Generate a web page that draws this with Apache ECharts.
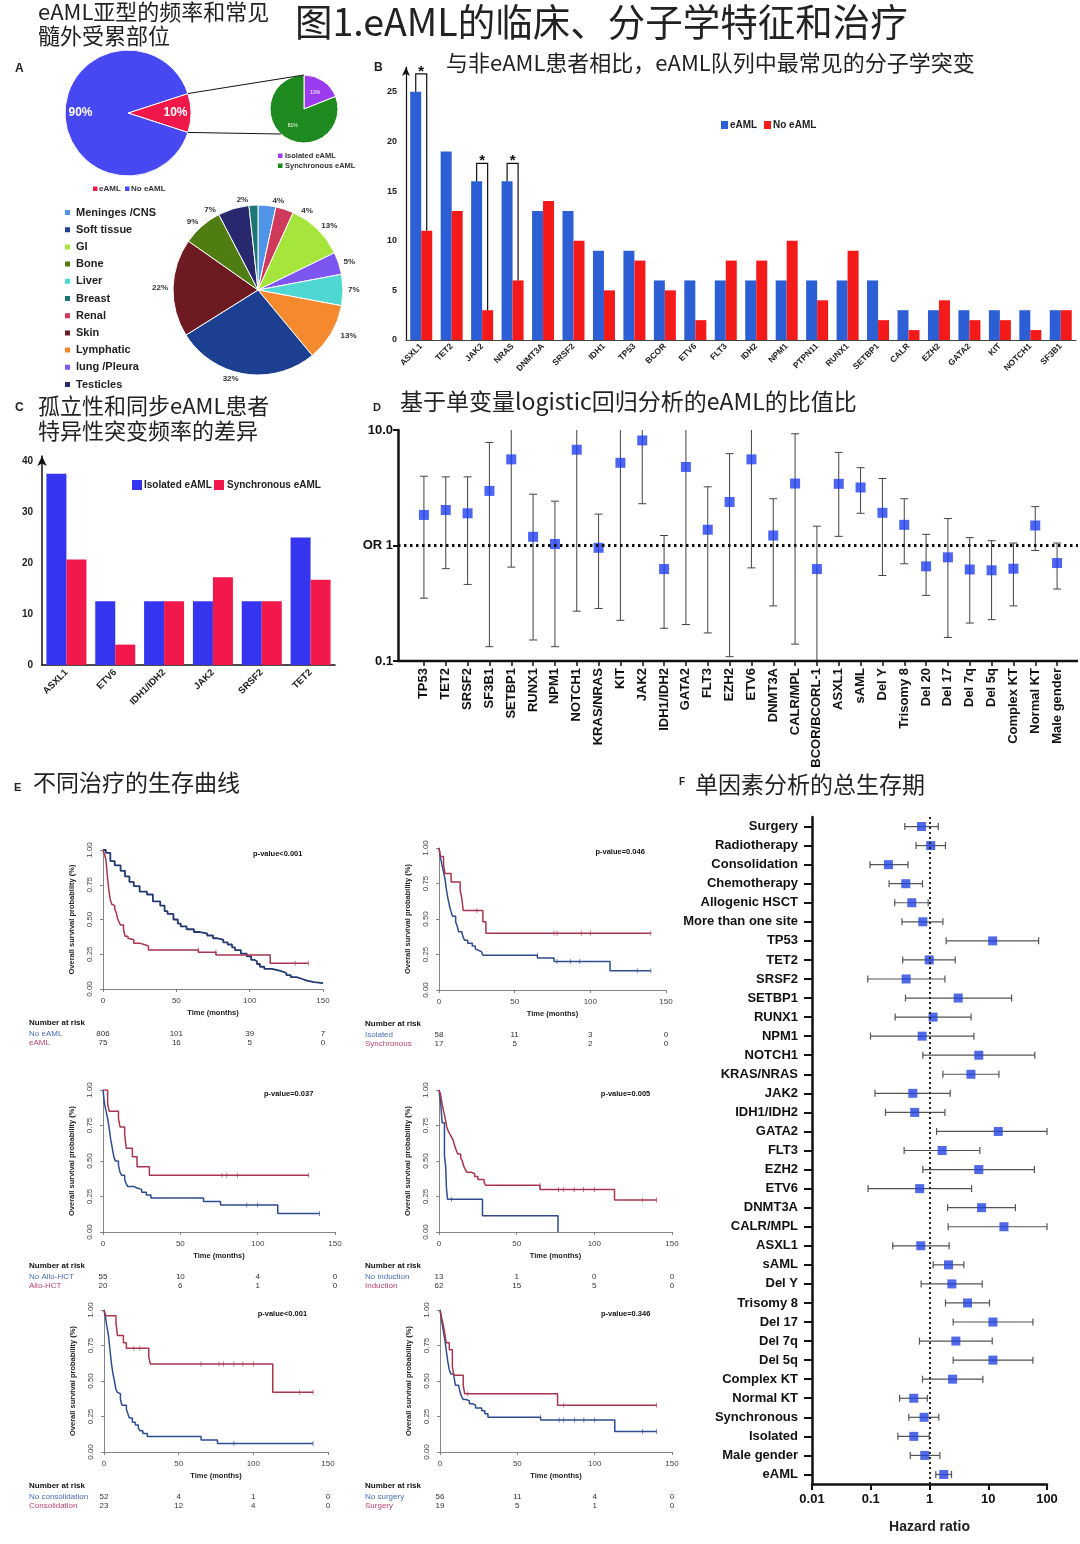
<!DOCTYPE html>
<html><head><meta charset="utf-8">
<script src="https://cdn.jsdelivr.net/npm/echarts@6/dist/echarts.min.js"></script>
<style>html,body{margin:0;padding:0;background:#fff}#c{width:1080px;height:1544px}</style>
</head><body><div id="c"></div>
<script>
// ---------------- DATA ----------------
const pieMainNames = ['eAML', 'No eAML'];
const pieMainValues = [10, 90];
const pieSubNames = ['Isolated eAML', 'Synchronous eAML'];
const pieSubValues = [19, 81];
const siteNames = ['Meninges /CNS','Renal','GI','lung /Pleura','Liver','Lymphatic','Soft tissue','Skin','Bone','Testicles','Breast'];
const siteValues = [4, 4, 13, 5, 7, 13, 32, 22, 9, 7, 2];
const siteLegendOrder = ['Meninges /CNS','Soft tissue','GI','Bone','Liver','Breast','Renal','Skin','Lymphatic','lung /Pleura','Testicles'];

const mutGenes = ['ASXL1','TET2','JAK2','NRAS','DNMT3A','SRSF2','IDH1','TP53','BCOR','ETV6','FLT3','IDH2','NPM1','PTPN11','RUNX1','SETBP1','CALR','EZH2','GATA2','KIT','NOTCH1','SF3B1'];
const mutEAML   = [25,19,16,16,13,13,9,9,6,6,6,6,6,6,6,6,3,3,3,3,3,3];
const mutNoEAML = [11,13,3,6,14,10,5,8,5,2,8,8,10,4,9,2,1,4,2,2,1,3];
const sigGenes = ['ASXL1','JAK2','NRAS'];
const sigLevels = [26.8, 17.8, 17.8];
const mutTicks = [0, 5, 10, 15, 20, 25];

const subGenes = ['ASXL1','ETV6','IDH1/IDH2','JAK2','SRSF2','TET2'];
const subIsolated = [37.5, 12.5, 12.5, 12.5, 12.5, 25];
const subSynchronous = [20.7, 4, 12.5, 17.2, 12.5, 16.7];
const subTicks = [0, 10, 20, 30, 40];

const orVars = ['TP53','TET2','SRSF2','SF3B1','SETBP1','RUNX1','NPM1','NOTCH1','KRAS/NRAS','KIT','JAK2','IDH1/IDH2','GATA2','FLT3','EZH2','ETV6','DNMT3A','CALR/MPL','BCOR/BCORL-1','ASXL1','sAML','Del Y','Trisomy 8','Del 20','Del 17','Del 7q','Del 5q','Complex KT','Normal KT','Male gender'];
const orValue = [1.84,2.03,1.90,2.97,5.57,1.19,1.03,6.75,0.955,5.2,8.12,0.625,4.79,1.37,2.38,5.57,1.22,3.44,0.625,3.42,3.18,1.92,1.51,0.66,0.79,0.62,0.61,0.63,1.49,0.705];
const orLower = [0.35,0.63,0.46,0.133,0.65,0.152,0.133,0.27,0.285,0.225,2.3,0.192,0.207,0.175,0.109,0.64,0.30,0.14,0.05,1.2,1.9,0.55,0.695,0.37,0.16,0.213,0.228,0.30,0.906,0.42];
const orUpper = [3.98,3.93,3.93,7.8,15,2.78,2.42,15,1.87,15,15,1.22,15,3.22,6.24,15,2.54,9.27,1.47,6.4,4.72,3.8,2.54,1.25,1.71,1.17,1.1,1.05,2.17,1.05];

const hrVars = ['Surgery','Radiotherapy','Consolidation','Chemotherapy','Allogenic HSCT','More than one site','TP53','TET2','SRSF2','SETBP1','RUNX1','NPM1','NOTCH1','KRAS/NRAS','JAK2','IDH1/IDH2','GATA2','FLT3','EZH2','ETV6','DNMT3A','CALR/MPL','ASXL1','sAML','Del Y','Trisomy 8','Del 17','Del 7q','Del 5q','Complex KT','Normal KT','Synchronous','Isolated','Male gender','eAML'];
const hrValue = [0.73,1.05,0.20,0.395,0.50,0.77,11.9,0.99,0.40,3.08,1.15,0.75,6.9,5.07,0.52,0.56,14.8,1.64,6.9,0.68,7.7,18.5,0.71,2.11,2.4,4.44,12.0,2.81,12.0,2.47,0.54,0.81,0.54,0.83,1.75];
const hrLower = [0.38,0.59,0.097,0.205,0.256,0.34,1.92,0.35,0.089,0.39,0.26,0.099,0.77,1.69,0.118,0.178,1.32,0.37,0.77,0.09,2.03,2.08,0.237,1.155,0.72,1.87,2.53,0.675,2.53,0.76,0.31,0.445,0.29,0.47,1.28];
const hrUpper = [1.41,1.87,0.43,0.76,0.95,1.69,72,2.74,1.83,25,5.1,5.7,62,15.2,2.25,1.83,100,7.2,61,5.2,29,100,2.16,3.84,7.9,10.5,57.6,11.7,57.6,8.1,0.92,1.44,0.99,1.5,2.37];

// Kaplan-Meier curves [time (months), survival]
const km1Blue = [[0,1],[2,0.98],[5,0.92],[8,0.89],[12,0.85],[15,0.81],[18,0.77],[21,0.74],[25,0.70],[30,0.68],[34,0.63],[39,0.60],[42,0.56],[44,0.54],[48,0.50],[51,0.47],[53,0.45],[57,0.43],[62,0.41],[66,0.40],[71,0.385],[75,0.365],[78,0.355],[82,0.335],[85,0.32],[88,0.30],[90,0.28],[94,0.255],[98,0.235],[101,0.21],[103,0.20],[105,0.18],[107,0.16],[110,0.145],[115,0.135],[119,0.127],[122,0.115],[125,0.10],[128,0.085],[132,0.072],[136,0.06],[139,0.05],[144,0.042],[150,0.04]];
const km1Red = [[0,1],[1,0.97],[2,0.93],[3,0.81],[4,0.71],[5,0.64],[6,0.61],[7,0.60],[8,0.575],[9,0.55],[10,0.505],[11,0.48],[12,0.46],[14,0.43],[15,0.38],[17,0.365],[18,0.355],[21,0.33],[25,0.32],[28,0.31],[31,0.28],[65,0.265],[77,0.245],[114,0.185],[140,0.185]];
const km1BlueCens = [];
const km1RedCens = [[65,0.28],[77,0.265],[131,0.185],[140,0.185]];

const km2Blue = [[0,1],[1,0.93],[2,0.88],[3,0.83],[4,0.78],[5,0.70],[6,0.64],[7,0.59],[8,0.55],[9,0.52],[11,0.48],[12,0.45],[13,0.41],[15,0.40],[16,0.37],[17,0.35],[19,0.33],[22,0.31],[24,0.29],[25,0.28],[26,0.27],[28,0.26],[29,0.245],[65,0.225],[76,0.20],[113,0.135],[140,0.135]];
const km2Red = [[0,1],[1,0.94],[3,0.88],[4,0.82],[8,0.76],[14,0.70],[15,0.65],[16,0.56],[29,0.48],[31,0.40],[140,0.40]];
const km2BlueCens = [[65,0.245],[78,0.20],[87,0.20],[93,0.20],[131,0.135],[140,0.135]];
const km2RedCens = [[25,0.56],[76,0.40],[78,0.40],[94,0.40],[100,0.40],[140,0.40]];

const km3Blue = [[0,1],[1,0.90],[2,0.85],[3,0.80],[4,0.73],[5,0.65],[6,0.59],[7,0.53],[8,0.50],[10,0.47],[11,0.42],[12,0.40],[14,0.37],[15,0.34],[16,0.32],[20,0.31],[22,0.30],[25,0.28],[28,0.26],[31,0.24],[65,0.215],[76,0.19],[113,0.13],[140,0.13]];
const km3Red = [[0,1],[3,0.90],[4,0.85],[10,0.80],[11,0.74],[14,0.69],[15,0.59],[19,0.53],[22,0.46],[30,0.40],[133,0.40]];
const km3BlueCens = [[93,0.19],[100,0.19],[140,0.13]];
const km3RedCens = [[77,0.40],[80,0.40],[87,0.40],[133,0.40]];

const km4Blue = [[0,1],[1,0.92],[2,0.77],[3.5,0.54],[4.3,0.46],[4.8,0.31],[5.5,0.23],[28,0.115],[76.6,0]];
const km4Red = [[0,1],[1,0.97],[2,0.90],[3,0.85],[4,0.80],[5,0.74],[6,0.71],[7,0.69],[8,0.67],[9,0.65],[10,0.61],[11,0.58],[12,0.55],[14,0.52],[15,0.50],[16,0.46],[17,0.44],[18,0.42],[21,0.41],[23,0.39],[25,0.37],[29,0.35],[30,0.33],[65,0.30],[113,0.225],[140,0.225]];
const km4BlueCens = [[8,0.23]];
const km4RedCens = [[65,0.33],[77,0.30],[80,0.30],[87,0.30],[93,0.30],[100,0.30],[131,0.225],[140,0.225]];

const km5Blue = [[0,1],[1,0.95],[2,0.88],[3,0.82],[4,0.72],[5,0.62],[6,0.55],[7,0.50],[8,0.44],[9,0.42],[10,0.41],[11,0.37],[12,0.33],[15,0.30],[16,0.27],[17,0.24],[19,0.21],[21,0.19],[23,0.17],[24,0.15],[26,0.13],[29,0.11],[65,0.085],[76,0.06],[140,0.06]];
const km5Red = [[0,1],[1,0.96],[8,0.91],[9,0.82],[13,0.77],[15,0.73],[30,0.67],[31,0.62],[113,0.42],[140,0.42]];
const km5BlueCens = [[87,0.06],[140,0.06]];
const km5RedCens = [[20,0.73],[24,0.73],[65,0.62],[77,0.62],[80,0.62],[87,0.62],[93,0.62],[100,0.62],[131,0.42],[140,0.42]];

const km6Blue = [[0,1],[1,0.93],[2,0.86],[3,0.80],[4,0.72],[5,0.64],[6,0.58],[7,0.55],[9,0.53],[10,0.47],[12,0.46],[13,0.42],[14,0.39],[15,0.37],[17,0.36],[19,0.34],[21,0.33],[23,0.31],[27,0.29],[29,0.27],[31,0.245],[65,0.225],[113,0.145],[140,0.145]];
const km6Red = [[0,1],[1,0.95],[2,0.90],[3,0.84],[4,0.77],[6,0.72],[8,0.60],[9,0.54],[15,0.47],[16,0.41],[76,0.33],[140,0.33]];
const km6BlueCens = [[65,0.245],[77,0.225],[80,0.225],[87,0.225],[93,0.225],[100,0.225],[131,0.145],[140,0.145]];
const km6RedCens = [[18,0.41],[80,0.33],[140,0.33]];

const kmPValues = ['p-value<0.001','p-value=0.046','p-value=0.037','p-value=0.005','p-value<0.001','p-value=0.346'];
const kmGroupNames = [['No eAML','eAML'],['Isolated','Synchronous'],['No Allo-HCT','Allo-HCT'],['No induction','Induction'],['No consolidation','Consolidation'],['No surgery','Surgery']];
const kmRisk = [
  [[806,101,39,7],[75,16,5,0]],
  [[58,11,3,0],[17,5,2,0]],
  [[55,10,4,0],[20,6,1,0]],
  [[13,1,0,0],[62,15,5,0]],
  [[52,4,1,0],[23,12,4,0]],
  [[56,11,4,0],[19,5,1,0]]
];
const kmTimeTicks = [0, 50, 100, 150];

// ---------------- STYLE ----------------
const LAT = '"Liberation Sans", Arial, sans-serif';
const CJK = '"Noto Sans CJK SC", sans-serif';
const C_BLUE_A = '#4848f2', C_RED_A = '#f0184a';
const C_PURPLE = '#9b3cf0', C_GREEN = '#1f8a1f';
const siteColors = {'Meninges /CNS':'#4f94e8','Renal':'#cf3a5a','GI':'#a6e63c','lung /Pleura':'#7d55f0','Liver':'#4fd8d3','Lymphatic':'#f5892d','Soft tissue':'#1d3f91','Skin':'#6e1a22','Bone':'#4f7d12','Testicles':'#27286e','Breast':'#1d7676'};
const C_B_BLUE = '#2c5fd6', C_B_RED = '#f51a1a';
const C_C_BLUE = '#3535f0', C_C_RED = '#f2184c';
const C_MARK = '#1f3ff0';
const KM_BLUE = '#2e4d8f', KM_RED = '#a8354f';

const kmGrids = [
  {left:103, top:850, width:220, height:139},
  {left:439, top:848, width:227, height:142},
  {left:103, top:1090, width:232, height:142},
  {left:439, top:1090, width:233, height:142},
  {left:104, top:1310, width:224, height:142},
  {left:440, top:1310, width:232, height:142}
];
const kmSets = [
  [km1Blue, km1Red, km1BlueCens, km1RedCens],
  [km2Blue, km2Red, km2BlueCens, km2RedCens],
  [km3Blue, km3Red, km3BlueCens, km3RedCens],
  [km4Blue, km4Red, km4BlueCens, km4RedCens],
  [km5Blue, km5Red, km5BlueCens, km5RedCens],
  [km6Blue, km6Red, km6BlueCens, km6RedCens]
];

const chart = echarts.init(document.getElementById('c'), null, {renderer:'canvas', width:1080, height:1544});

const grids = [
  {left:406, top:67, width:670, height:273},   // 0 B
  {left:42, top:456, width:293, height:209},   // 1 C
  {left:413, top:430, width:655, height:231},  // 2 D
];
kmGrids.forEach(g => grids.push(g));          // 3..8 KM
grids.push({left:812, top:817, width:235, height:667}); // 9 F

const xAxes = [], yAxes = [];
// B
xAxes.push({type:'category', gridIndex:0, data:mutGenes,
  axisLine:{lineStyle:{color:'#444', width:1}}, axisTick:{show:false},
  axisLabel:{interval:0, rotate:45, fontSize:8.5, fontWeight:'bold', color:'#222', margin:5, fontFamily:LAT}});
yAxes.push({type:'value', gridIndex:0, min:0, max:27.5, interval:5,
  axisLine:{show:true, symbol:['none','arrow'], symbolSize:[6,9], lineStyle:{color:'#111', width:1.2}},
  axisTick:{show:false}, splitLine:{show:false},
  axisLabel:{fontSize:9, fontWeight:'bold', color:'#222', margin:9, fontFamily:LAT,
    formatter: v => mutTicks.includes(v) ? String(v) : ''}});
// C
xAxes.push({type:'category', gridIndex:1, data:subGenes,
  axisLine:{lineStyle:{color:'#111', width:1.5}}, axisTick:{show:false},
  axisLabel:{interval:0, rotate:45, fontSize:9.5, fontWeight:'bold', color:'#222', margin:6, fontFamily:LAT}});
yAxes.push({type:'value', gridIndex:1, min:0, max:41, interval:10,
  axisLine:{show:true, symbol:['none','arrow'], symbolSize:[7,10], lineStyle:{color:'#111', width:1.5}},
  axisTick:{show:false}, splitLine:{show:false},
  axisLabel:{fontSize:10, fontWeight:'bold', color:'#222', margin:9, fontFamily:LAT,
    formatter: v => subTicks.includes(v) ? String(v) : ''}});
// D
xAxes.push({type:'category', gridIndex:2, data:orVars,
  axisLine:{show:false}, axisTick:{show:true, alignWithLabel:true, length:5, lineStyle:{color:'#111', width:1.5}},
  axisLabel:{interval:0, rotate:90, fontSize:13, fontWeight:'bold', color:'#111', margin:7, fontFamily:LAT}});
yAxes.push({type:'log', logBase:10, gridIndex:2, min:0.1, max:10, offset:15,
  axisLine:{show:true, lineStyle:{color:'#111', width:2.5}},
  axisTick:{show:true, length:5, lineStyle:{color:'#111', width:2}}, splitLine:{show:false},
  axisLabel:{fontSize:13, fontWeight:'bold', color:'#111', margin:5, fontFamily:LAT,
    formatter: v => Math.abs(v-1)<1e-6 ? 'OR 1' : (Math.abs(v-10)<1e-6 ? '10.0' : '0.1')}});
// KM
kmGrids.forEach((g, k) => {
  xAxes.push({type:'value', gridIndex:3+k, min:0, max:150, interval:50, offset:5,
    axisLine:{show:true, lineStyle:{color:'#666', width:0.8}},
    axisTick:{show:true, length:3, lineStyle:{color:'#666', width:0.8}}, splitLine:{show:false},
    axisLabel:{fontSize:8, color:'#444', margin:3, fontFamily:LAT},
    name:'Time (months)', nameLocation:'middle', nameGap:15,
    nameTextStyle:{fontSize:7.5, fontWeight:'bold', color:'#222', fontFamily:LAT}});
  yAxes.push({type:'value', gridIndex:3+k, min:0, max:1, interval:0.25, offset:6,
    axisLine:{show:true, lineStyle:{color:'#666', width:0.8}},
    axisTick:{show:true, length:3, lineStyle:{color:'#666', width:0.8}}, splitLine:{show:false},
    axisLabel:{fontSize:8, color:'#444', margin:3, rotate:90, fontFamily:LAT, formatter: v => v.toFixed(2)},
    name:'Overall survival probability (%)', nameLocation:'middle', nameGap:21, nameRotate:90,
    nameTextStyle:{fontSize:7.5, fontWeight:'bold', color:'#222', fontFamily:LAT}});
});
// F
xAxes.push({type:'log', logBase:10, gridIndex:9, min:0.01, max:100,
  axisLine:{show:true, lineStyle:{color:'#111', width:2.5}},
  axisTick:{show:true, length:6, lineStyle:{color:'#111', width:2}}, splitLine:{show:false},
  axisLabel:{fontSize:13, fontWeight:'bold', color:'#111', margin:9, fontFamily:LAT,
    formatter: v => String(+v.toPrecision(3))},
  name:'Hazard ratio', nameLocation:'middle', nameGap:36,
  nameTextStyle:{fontSize:14, fontWeight:'bold', color:'#222', fontFamily:LAT}});
yAxes.push({type:'category', gridIndex:9, data:hrVars, inverse:true,
  axisLine:{show:true, lineStyle:{color:'#111', width:2.5}},
  axisTick:{show:true, alignWithLabel:true, length:8, lineStyle:{color:'#111', width:2}},
  axisLabel:{interval:0, fontSize:13, fontWeight:'bold', color:'#111', margin:14, fontFamily:LAT}});

const series = [];
// A: main pie
series.push({type:'pie', center:[128,113], radius:[0,63], startAngle:18, clockwise:true, silent:true,
  data: pieMainNames.map((n,i)=>({name:n, value:pieMainValues[i], itemStyle:{color: i===0?C_RED_A:C_BLUE_A}})),
  itemStyle:{borderColor:'#fff', borderWidth:1}, label:{show:false}, labelLine:{show:false}});
series.push({type:'pie', center:[128,113], radius:[26,63], startAngle:18, clockwise:true, silent:true,
  data: pieMainNames.map((n,i)=>({name:n+' ', value:pieMainValues[i]})),
  itemStyle:{color:'rgba(0,0,0,0)'},
  label:{show:true, position:'inside', formatter:'{d}%', color:'#fff', fontWeight:'bold', fontSize:12, fontFamily:LAT},
  labelLine:{show:false}});
// A: sub pie
series.push({type:'pie', center:[304,109], radius:[0,34], startAngle:90, clockwise:true, silent:true,
  data: pieSubNames.map((n,i)=>({name:n+'  ', value:pieSubValues[i], itemStyle:{color: i===0?C_PURPLE:C_GREEN}})),
  itemStyle:{borderColor:'#fff', borderWidth:1},
  label:{show:true, position:'inside', formatter:'{d}%', color:'#fff', fontSize:5, fontFamily:LAT},
  labelLine:{show:false}});
// A: site pie
series.push({type:'pie', center:[258,290], radius:[0,85], startAngle:90, clockwise:true, silent:true,
  data: siteNames.map((n,i)=>({name:n, value:siteValues[i], itemStyle:{color:siteColors[n]}})),
  itemStyle:{borderColor:'#fff', borderWidth:1},
  label:{show:true, position:'outside', formatter: p => p.value + '%', color:'#333', fontSize:8, fontWeight:'bold', fontFamily:LAT},
  labelLine:{show:false, length:5, length2:0}});
// B
series.push({type:'bar', name:'eAML', xAxisIndex:0, yAxisIndex:0, data:mutEAML, barWidth:11, barGap:'0%', itemStyle:{color:C_B_BLUE}, silent:true});
series.push({type:'bar', name:'No eAML', xAxisIndex:0, yAxisIndex:0, data:mutNoEAML, barWidth:11, barGap:'0%', itemStyle:{color:C_B_RED}, silent:true});
series.push({type:'custom', xAxisIndex:0, yAxisIndex:0, silent:true, z:5,
  data: sigGenes.map((g,i)=>{const j = mutGenes.indexOf(g); return [j, sigLevels[i], mutEAML[j], mutNoEAML[j]];}),
  encode:{x:0, y:1},
  renderItem:(params, api)=>{
    const j = api.value(0), lev = api.value(1);
    const top = api.coord([j, lev]);
    const pb = api.coord([j, api.value(2)]), pr = api.coord([j, api.value(3)]);
    const xb = top[0]-5.5, xr = top[0]+5.5;
    return {type:'group', children:[
      {type:'polyline', shape:{points:[[xb,pb[1]],[xb,top[1]],[xr,top[1]],[xr,pr[1]]]}, style:{stroke:'#111', lineWidth:1.2, fill:null}},
      {type:'text', x:top[0], y:top[1]+5, style:{text:'*', font:'bold 15px '+LAT, fill:'#111', align:'center', verticalAlign:'bottom', textAlign:'center', textVerticalAlign:'bottom'}}
    ]};
  }});
// C
series.push({type:'bar', name:'Isolated', xAxisIndex:1, yAxisIndex:1, data:subIsolated, barWidth:20, barGap:'0%', itemStyle:{color:C_C_BLUE}, silent:true});
series.push({type:'bar', name:'Synchronous', xAxisIndex:1, yAxisIndex:1, data:subSynchronous, barWidth:20, barGap:'0%', itemStyle:{color:C_C_RED}, silent:true});
// D
series.push({type:'custom', xAxisIndex:2, yAxisIndex:2, silent:true,
  data: orVars.map((v,i)=>[i, orLower[i], orUpper[i]]),
  encode:{x:0, y:[1,2]},
  renderItem:(params, api)=>{
    const i = api.value(0), lo = api.value(1), hi = api.value(2);
    const loC = Math.max(lo, 0.1), hiC = Math.min(hi, 10);
    const a = api.coord([i, loC]), b = api.coord([i, hiC]);
    const st = {stroke:'#444', lineWidth:1};
    const ch = [{type:'line', shape:{x1:a[0],y1:a[1],x2:b[0],y2:b[1]}, style:st}];
    if (lo >= 0.1) ch.push({type:'line', shape:{x1:a[0]-4,y1:a[1],x2:a[0]+4,y2:a[1]}, style:st});
    if (hi <= 10) ch.push({type:'line', shape:{x1:b[0]-4,y1:b[1],x2:b[0]+4,y2:b[1]}, style:st});
    return {type:'group', children:ch};
  }});
series.push({type:'scatter', xAxisIndex:2, yAxisIndex:2, silent:true, z:4,
  data: orValue.map((v,i)=>[orVars[i], v]), symbol:'rect', symbolSize:10, itemStyle:{color:C_MARK}});
// KM
kmSets.forEach((s, k) => {
  const ax = 3+k;
  series.push({type:'line', xAxisIndex:ax, yAxisIndex:ax, step:'end', data:s[0], showSymbol:false, silent:true,
    lineStyle:{color: k===0 ? '#22386e' : KM_BLUE, width: k===0 ? 1.8 : 1.5}});
  series.push({type:'line', xAxisIndex:ax, yAxisIndex:ax, step:'end', data:s[1], showSymbol:false, silent:true,
    lineStyle:{color:KM_RED, width:1.5}});
  series.push({type:'scatter', xAxisIndex:ax, yAxisIndex:ax, data:s[2], symbol:'rect', symbolSize:[0.8,5], silent:true, itemStyle:{color:KM_BLUE}});
  series.push({type:'scatter', xAxisIndex:ax, yAxisIndex:ax, data:s[3], symbol:'rect', symbolSize:[0.8,5], silent:true, itemStyle:{color:KM_RED}});
});
// F
series.push({type:'custom', xAxisIndex:9, yAxisIndex:9, silent:true,
  data: hrVars.map((v,i)=>[hrLower[i], hrUpper[i], i]),
  encode:{x:[0,1], y:2},
  renderItem:(params, api)=>{
    const a = api.coord([api.value(0), api.value(2)]), b = api.coord([api.value(1), api.value(2)]);
    const st = {stroke:'#555', lineWidth:1.2};
    return {type:'group', children:[
      {type:'line', shape:{x1:a[0],y1:a[1],x2:b[0],y2:b[1]}, style:st},
      {type:'line', shape:{x1:a[0],y1:a[1]-3.5,x2:a[0],y2:a[1]+3.5}, style:st},
      {type:'line', shape:{x1:b[0],y1:b[1]-3.5,x2:b[0],y2:b[1]+3.5}, style:st}
    ]};
  }});
series.push({type:'scatter', xAxisIndex:9, yAxisIndex:9, silent:true, z:4,
  data: hrValue.map((v,i)=>[v, hrVars[i]]), symbol:'rect', symbolSize:9, itemStyle:{color:'#2443e0'},
  markLine:{silent:true, symbol:'none', label:{show:false}, data:[{xAxis:1}],
    lineStyle:{color:'#222', width:2, type:[2,3]}}});

chart.setOption({
  animation:false,
  textStyle:{fontFamily:LAT},
  grid: grids, xAxis: xAxes, yAxis: yAxes,
  legend:[{
    data: siteLegendOrder, orient:'vertical', left:58, top:201, selectedMode:false,
    icon:'rect', itemWidth:7, itemHeight:7, itemGap:4.2,
    textStyle:{fontSize:11, fontWeight:'bold', color:'#222', lineHeight:13, fontFamily:LAT}
  }],
  series: series
});

// ---------------- GRAPHIC (titles, legends, annotations) ----------------
function T(x, y, text, size, opt) {
  opt = opt || {};
  const fam = opt.cjk ? CJK : LAT;
  const w = opt.weight || (opt.cjk ? 'normal' : 'bold');
  const al = opt.align || 'left', va = opt.va || 'top';
  return {type:'text', x:x, y:y, silent:true, z:100,
    style:{text:text, font: w+' '+size+'px '+fam, fill: opt.color || '#222',
      align:al, verticalAlign:va, textAlign:al, textVerticalAlign:va, lineHeight: opt.lh}};
}
function R(x, y, w, h, color) {
  return {type:'rect', silent:true, z:100, shape:{x:x, y:y, width:w, height:h}, style:{fill:color}};
}
function L(x1, y1, x2, y2, color, w, dash) {
  return {type:'line', silent:true, z:100, shape:{x1:x1,y1:y1,x2:x2,y2:y2},
    style:{stroke:color, lineWidth:w, lineDash:dash || null}};
}
const G = [];
// titles
G.push(T(38, 0, 'eAML亚型的频率和常见\n髓外受累部位', 22, {cjk:true, lh:24}));
G.push(T(295, 3, '图1.eAML的临床、分子学特征和治疗', 37.5, {cjk:true}));
G.push(T(446, 52, '与非eAML患者相比，eAML队列中最常见的分子学突变', 22, {cjk:true}));
G.push(T(38, 393, '孤立性和同步eAML患者\n特异性突变频率的差异', 22, {cjk:true, lh:25}));
G.push(T(400, 390, '基于单变量logistic回归分析的eAML的比值比', 23, {cjk:true}));
G.push(T(33, 771, '不同治疗的生存曲线', 23, {cjk:true}));
G.push(T(695, 773, '单因素分析的总生存期', 23, {cjk:true}));
// panel letters
G.push(T(15, 63, 'A', 12));
G.push(T(374, 62, 'B', 12));
G.push(T(15, 402, 'C', 12));
G.push(T(373, 402, 'D', 11));
G.push(T(14, 782, 'E', 11));
G.push(T(679, 777, 'F', 10));
// A: connectors from wedge to sub pie
const mc = [128,113], mr = 63, ang = 18*Math.PI/180;
G.push(L(mc[0]+mr*Math.cos(ang), mc[1]-mr*Math.sin(ang), 304, 75, '#111', 1));
G.push(L(mc[0]+mr*Math.cos(ang), mc[1]+mr*Math.sin(ang), 281, 134, '#111', 1));
// A legends
G.push(R(93, 186.5, 4.5, 4.5, C_RED_A)); G.push(T(99, 189, pieMainNames[0], 8, {va:'middle', color:'#333'}));
G.push(R(125, 186.5, 4.5, 4.5, C_BLUE_A)); G.push(T(131, 189, pieMainNames[1], 8, {va:'middle', color:'#333'}));
G.push(R(278, 153.5, 4.5, 4.5, C_PURPLE)); G.push(T(285, 156, pieSubNames[0], 7.5, {va:'middle', color:'#333'}));
G.push(R(278, 163.5, 4.5, 4.5, C_GREEN)); G.push(T(285, 166, pieSubNames[1], 7.5, {va:'middle', color:'#333'}));
// B legend
G.push(R(721, 121, 7, 8, C_B_BLUE)); G.push(T(730, 125, 'eAML', 10, {va:'middle'}));
G.push(R(764, 121, 7, 8, C_B_RED)); G.push(T(773, 125, 'No eAML', 10, {va:'middle'}));
// C legend
G.push(R(132, 480, 10, 10, C_C_BLUE)); G.push(T(144, 485, 'Isolated eAML', 10, {va:'middle'}));
G.push(R(214, 480, 10, 10, C_C_RED)); G.push(T(227, 485, 'Synchronous eAML', 10, {va:'middle'}));
// D axis line and OR=1 dotted reference line
const dBot = chart.convertToPixel({gridIndex:2}, [0, 0.1]);
const dOne = chart.convertToPixel({gridIndex:2}, [0, 1]);
G.push(L(398, dBot[1], 1078, dBot[1], '#111', 2.5));
G.push(L(398, dOne[1], 1078, dOne[1], '#111', 2.8, [2.5, 3.5]));
// KM annotations
kmGrids.forEach((g, k) => {
  const gi = 3+k;
  const pv = chart.convertToPixel({gridIndex:gi}, [136, 0.97]);
  G.push(T(pv[0], pv[1], kmPValues[k], 7.5, {align:'right', va:'middle', color:'#111'}));
  const base = chart.convertToPixel({gridIndex:gi}, [0, 0]);
  const lx = k % 2 === 0 ? 29 : 365;
  G.push(T(lx, base[1]+34, 'Number at risk', 8, {va:'middle', color:'#111'}));
  G.push(T(lx, base[1]+44.5, kmGroupNames[k][0], 8, {va:'middle', weight:'normal', color:'#4a6db5'}));
  G.push(T(lx, base[1]+53.5, kmGroupNames[k][1], 8, {va:'middle', weight:'normal', color:'#b8466a'}));
  kmTimeTicks.forEach((t, j) => {
    const p = chart.convertToPixel({gridIndex:gi}, [t, 0]);
    G.push(T(p[0], base[1]+44.5, String(kmRisk[k][0][j]), 8, {align:'center', va:'middle', weight:'normal', color:'#333'}));
    G.push(T(p[0], base[1]+53.5, String(kmRisk[k][1][j]), 8, {align:'center', va:'middle', weight:'normal', color:'#333'}));
  });
});
chart.setOption({graphic: G});
</script>
</body></html>
